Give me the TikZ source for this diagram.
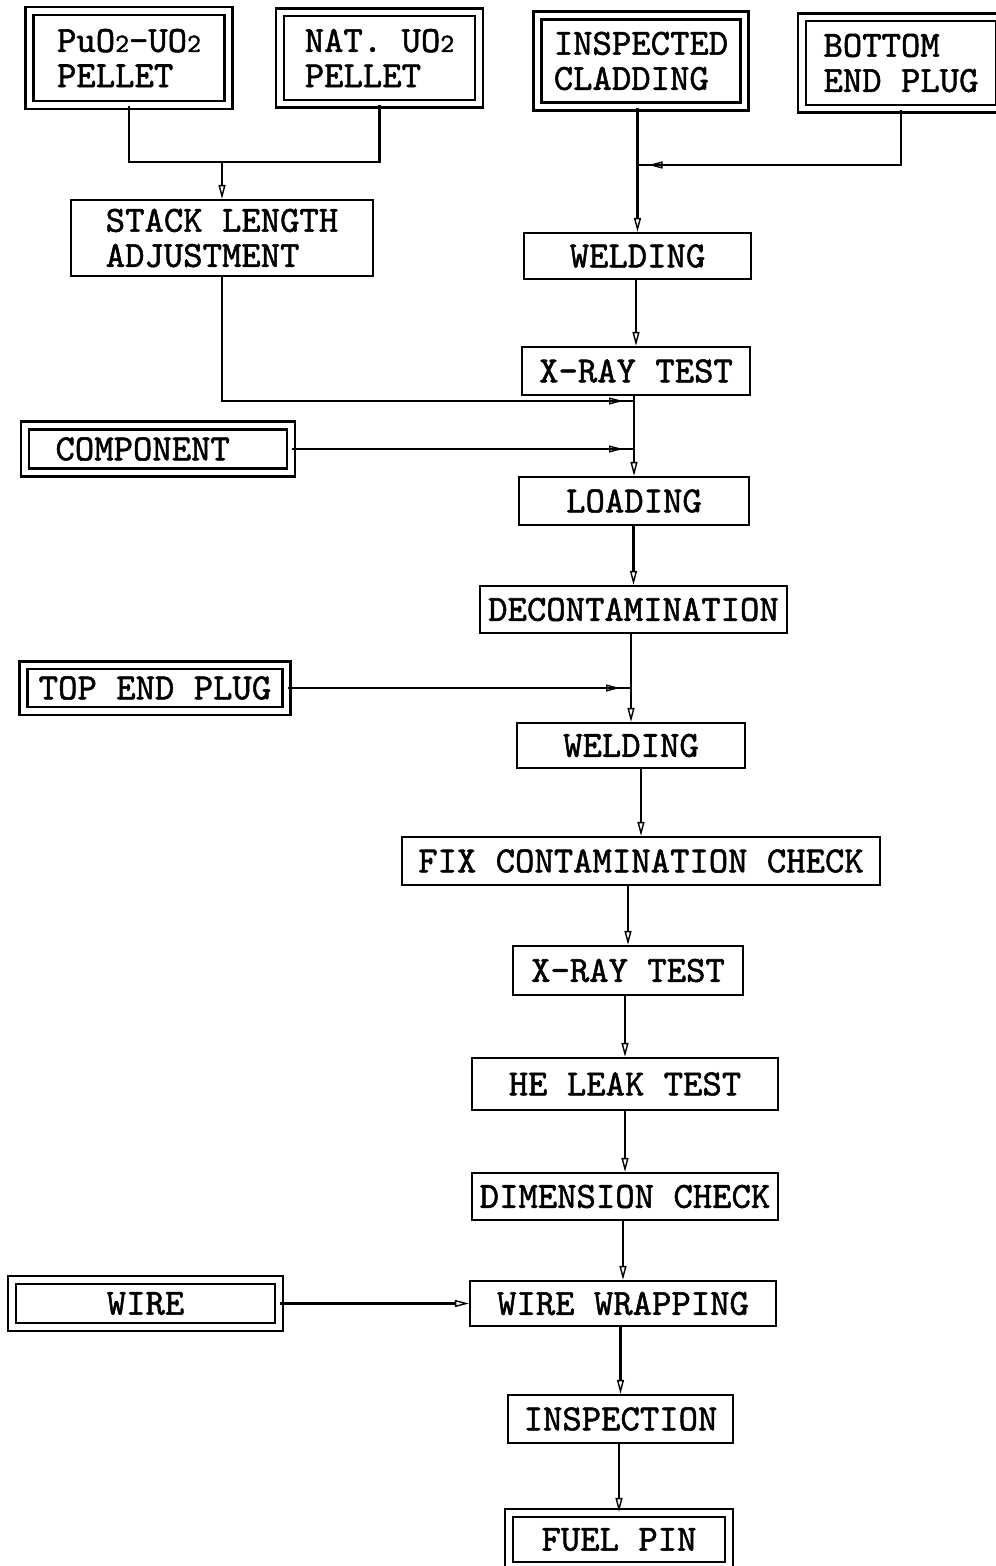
\documentclass[tikz,border=0pt]{standalone}
\usepackage{fontspec}
\newfontfamily\typew{lmmono10-regular.otf}[FakeBold=1.4]
\usetikzlibrary{arrows.meta,decorations.markings}
\newcommand{\low}[1]{{\fontsize{15}{15}\selectfont #1}}

\tikzset{
	box/.style={draw, line width=1.3pt, inner sep=2pt, font=\typew\fontsize{21}{20}\selectfont},
	dbox/.style={box, double, double distance=0.11cm},
	tip/.tip={Triangle[open, length=2.8mm, width=1.4mm, line width=0.8pt]},
	flow/.style={line width=1.3pt, -tip},
	feed/.style={line width=1.3pt, postaction={decorate},
		decoration={markings, mark=at position -0.22cm with {\arrow{tip}}}},
}

\begin{document}
\begin{tikzpicture}[x=0.02cm, y=-0.02cm]
	%%%%% START %%%%%
	\useasboundingbox (0,0) rectangle (996,1566);
	
	% inputs (double frames)
	\node[dbox, align=left, minimum width=3.98cm, minimum height=1.88cm] (puo) at (129,58) {PuO\low{2}-UO\low{2}\\PELLET};
	\node[dbox, align=left, minimum width=3.98cm, minimum height=1.83cm] (nat) at (379.5,58) {NAT. UO\low{2}\\PELLET};
	\node[dbox, align=left, minimum width=4.14cm, minimum height=1.82cm] (clad) at (641,61) {INSPECTED\\CLADDING};
	\node[dbox, align=left, minimum width=3.96cm, minimum height=1.83cm] (bplug) at (901,63) {BOTTOM\\END PLUG};
	\node[dbox, align=left, text width=4.1cm, minimum width=5.32cm, minimum height=0.94cm] (comp) at (158,449) {COMPONENT};
	\node[dbox, minimum width=5.26cm, minimum height=0.91cm] (tplug) at (155,688) {TOP END PLUG};
	\node[dbox, minimum width=5.34cm, minimum height=0.94cm] (wire) at (145.5,1303.5) {WIRE};
	
	% process steps
	\node[box, align=left, minimum width=6.04cm, minimum height=1.52cm] (stack) at (222,238) {STACK LENGTH\\ADJUSTMENT};
	\node[box, minimum width=4.54cm, minimum height=0.92cm] (weld1) at (637.5,256) {WELDING};
	\node[box, minimum width=4.56cm, minimum height=0.96cm] (xray1) at (636,371) {X-RAY TEST};
	\node[box, minimum width=4.6cm, minimum height=0.96cm] (loading) at (634,501) {LOADING};
	\node[box, minimum width=6.14cm, minimum height=0.94cm] (decon) at (633.5,609.5) {DECONTAMINATION};
	\node[box, minimum width=4.56cm, minimum height=0.9cm] (weld2) at (631,745.5) {WELDING};
	\node[box, minimum width=9.56cm, minimum height=0.96cm] (fix) at (641,861) {FIX CONTAMINATION CHECK};
	\node[box, minimum width=4.6cm, minimum height=0.98cm] (xray2) at (628,970.5) {X-RAY TEST};
	\node[box, minimum width=6.12cm, minimum height=1.04cm] (heleak) at (625,1084) {HE LEAK TEST};
	\node[box, minimum width=6.12cm, minimum height=0.94cm] (dim) at (625,1196.5) {DIMENSION CHECK};
	\node[box, minimum width=6.12cm, minimum height=0.9cm] (wwrap) at (623,1303.5) {WIRE WRAPPING};
	\node[box, minimum width=4.5cm, minimum height=0.96cm] (insp) at (620.5,1419) {INSPECTION};
	\node[dbox, minimum width=4.4cm, minimum height=1.06cm] (fuel) at (619,1539.5) {FUEL PIN};
	
	% joints on the main line
	\coordinate (jpel) at (stack |- 0,162);
	\coordinate (jbot) at (weld1 |- 0,165);
	\coordinate (jstack) at (loading |- 0,401);
	\coordinate (jcomp) at (loading |- comp);
	\coordinate (jtop) at (weld2 |- tplug);
	
	% pellets -> stack
	\draw[line width=1.3pt] (puo.south) |- (jpel) -| (nat.south);
	\draw[flow] (jpel) -- (stack);
	
	% side feeds
	\draw[feed] (bplug.south) |- (jbot);
	\draw[feed] (stack.south) |- (jstack);
	\draw[feed] (comp) -- (jcomp);
	\draw[feed] (tplug) -- (jtop);
	\draw[flow] (wire) -- (wwrap);
	
	% main line
	\foreach \a/\b in {clad/weld1, weld1/xray1, xray1/loading, loading/decon, decon/weld2,
		weld2/fix, fix/xray2, xray2/heleak, heleak/dim, dim/wwrap, wwrap/insp, insp/fuel}
		\draw[flow] (\b |- \a.south) -- (\b);
	%%%%% END %%%%%
\end{tikzpicture}
\end{document}
